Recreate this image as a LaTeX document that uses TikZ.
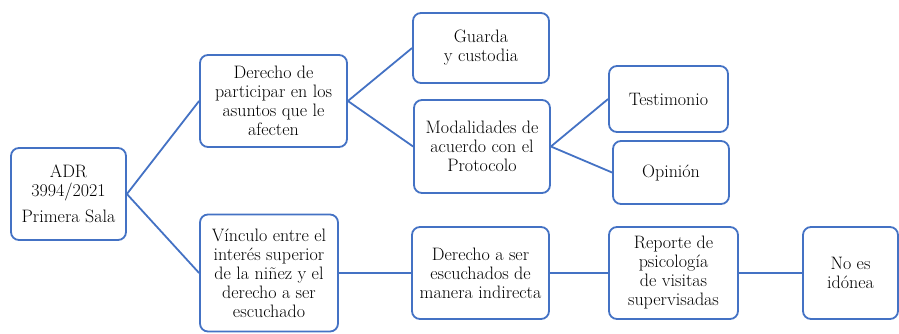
\documentclass[tikz,border=0pt]{standalone}
\definecolor{boxblue}{HTML}{4472C4}
\tikzset{
  box/.style={draw=boxblue, line width=1.8pt, rounded corners=8pt, align=center,
    inner sep=0pt, font=\fontsize{18}{19}\selectfont, text=black},
  link/.style={draw=boxblue, line width=1.8pt},
}
\begin{document}
\begin{tikzpicture}[x=1pt,y=-1pt]
\useasboundingbox (0,0) rectangle (899,333);
\node[box, minimum width=115pt, minimum height=92pt] (adr) at (68.5,194) {ADR\\3994/2021\\[7pt]Primera Sala};
\node[box, minimum width=147pt, minimum height=92pt] (part) at (273.5,101) {Derecho de\\participar en los\\asuntos que le\\afecten};
\node[box, minimum width=138pt, minimum height=117pt] (vinc) at (269,273) {V\'inculo entre el\\inter\'es superior\\de la ni\~nez y el\\derecho a ser\\escuchado};
\node[box, minimum width=136pt, minimum height=70pt] (guarda) at (481,48) {Guarda\\y custodia};
\node[box, minimum width=136pt, minimum height=93pt] (modal) at (482,146.5) {Modalidades de\\acuerdo con el\\Protocolo};
\node[box, minimum width=119pt, minimum height=66pt] (testi) at (668.5,99) {Testimonio};
\node[box, minimum width=116pt, minimum height=63pt] (opin) at (671,172.5) {Opini\'on};
\node[box, minimum width=137pt, minimum height=92pt] (escu) at (480.5,273) {Derecho a ser\\escuchados de\\manera indirecta};
\node[box, minimum width=129pt, minimum height=92pt] (repo) at (673.5,273) {Reporte de\\psicolog\'ia\\de visitas\\supervisadas};
\node[box, minimum width=95pt, minimum height=92pt] (noes) at (850.5,273) {No es\\id\'onea};
\draw[link] (adr.east) -- (part.west);
\draw[link] (adr.east) -- (vinc.west);
\draw[link] (part.east) -- (guarda.west);
\draw[link] (part.east) -- (modal.west);
\draw[link] (modal.east) -- (testi.west);
\draw[link] (modal.east) -- (opin.west);
\draw[link] (vinc.east) -- (escu.west);
\draw[link] (escu.east) -- (repo.west);
\draw[link] (repo.east) -- (noes.west);
\end{tikzpicture}
\end{document}
